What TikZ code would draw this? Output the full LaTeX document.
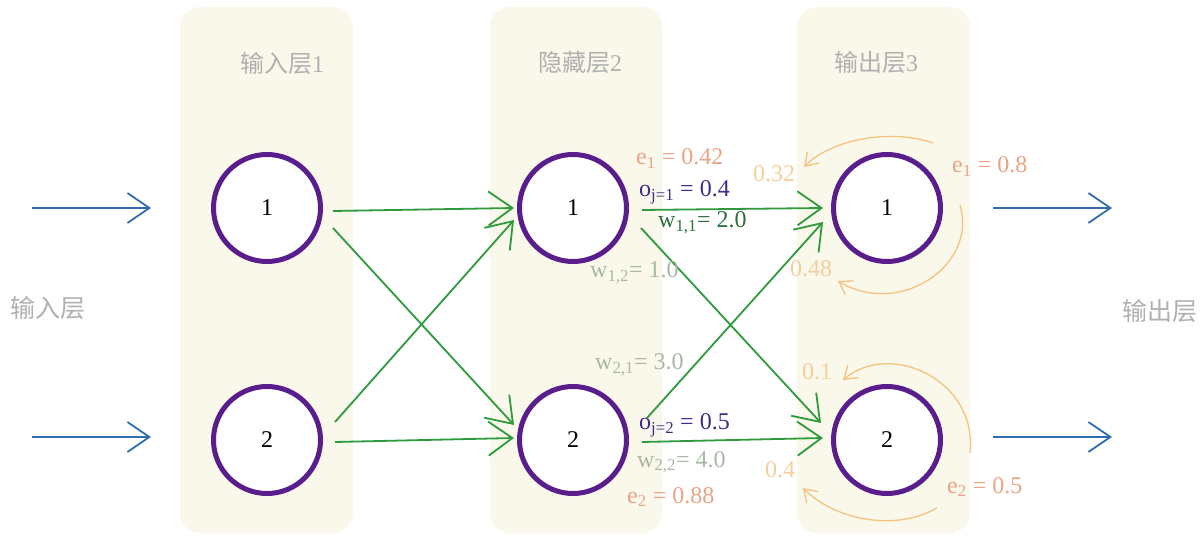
\documentclass[tikz,border=0pt]{standalone}
\usepackage{fontspec}
\setmainfont{Liberation Serif}
\newfontfamily\cjk{Noto Sans CJK SC}
\usetikzlibrary{arrows.meta}
\definecolor{panel}{HTML}{FAF8EB}
\definecolor{ringc}{HTML}{5A1E8C}
\definecolor{bluec}{HTML}{2F6DB0}
\definecolor{greenc}{HTML}{2E9A3C}
\definecolor{orangec}{HTML}{F4C37E}
\definecolor{salmon}{HTML}{E8A585}
\definecolor{navy}{HTML}{3A2E88}
\definecolor{dgreen}{HTML}{2E6E3C}
\definecolor{lgreen}{HTML}{A8B8A4}
\definecolor{lorange}{HTML}{F5CE9C}
\definecolor{hdr}{HTML}{B0B0B0}
\begin{document}
\begin{tikzpicture}[x=1pt,y=-1pt,
  neuron/.style={circle,draw=ringc,line width=5pt,fill=white,minimum size=107pt,inner sep=0pt,font=\fontsize{24}{28}\selectfont},
  panelbox/.style={fill=panel,rounded corners=20pt},
  header/.style={text=hdr,font=\fontsize{24}{28}\selectfont,inner sep=0pt},
  bluearrow/.style={draw=bluec,line width=1.8pt,-{Straight Barb[length=22pt,width=30pt,line width=1.8pt]}},
  greenarrow/.style={draw=greenc,line width=1.8pt,-{Straight Barb[length=24pt,width=34pt,line width=1.8pt]}},
  backarrow/.style={draw=orangec,line width=1.3pt,-{Straight Barb[length=12pt,width=16pt,line width=1.3pt]}},
  lbl/.style={font=\fontsize{24}{27}\selectfont,inner sep=0pt,anchor=base west},
]
\useasboundingbox (0,0) rectangle (1203,537);
% panels
\fill[panelbox] (180,7) rectangle (353,533);
\fill[panelbox] (490,7) rectangle (662,533);
\fill[panelbox] (797,7) rectangle (970,533);
% headers
\node[header] (t1) at (282,63) {{\cjk 输入层}1};
\node[header] (t2) at (580,62) {{\cjk 隐藏层}2};
\node[header] (t3) at (876,62) {{\cjk 输出层}3};
\node[header,font=\fontsize{25}{28}\selectfont] (tin) at (48,308) {\cjk 输入层};
\node[header,font=\fontsize{25}{28}\selectfont] (tout) at (1160,311) {\cjk 输出层};
% neurons
\node[neuron] (i1) at (267,208) {1};
\node[neuron] (i2) at (267,440) {2};
\node[neuron] (h1) at (573,208) {1};
\node[neuron] (h2) at (573,440) {2};
\node[neuron] (o1) at (887,208) {1};
\node[neuron] (o2) at (887,440) {2};
% blue in/out arrows
\coordinate (inA) at (32,208);
\coordinate (inB) at (32,437);
\coordinate (outA) at (1112,208);
\coordinate (outB) at (1112,437);
\draw[bluearrow] (inA) -- ([xshift=-60]i1.west);
\draw[bluearrow] (inB) -- ([shift={(-60,-3)}]i2.west);
\draw[bluearrow] ([xshift=50]o1.east) -- (outA);
\draw[bluearrow] ([shift={(50,-3)}]o2.east) -- (outB);
% green connections input -> hidden
\draw[greenarrow] ([shift={(10,3)}]i1.east) -- ([shift={(-3,0)}]h1.west);
\draw[greenarrow] ([shift={(10,20)}]i1.east) -- ([shift={(-3,-15)}]h2.west);
\draw[greenarrow] ([shift={(12,-18)}]i2.east) -- ([shift={(-3,12)}]h1.west);
\draw[greenarrow] ([shift={(12,2)}]i2.east) -- ([shift={(-3,-2)}]h2.west);
% green connections hidden -> output
\draw[greenarrow] ([shift={(13,2)}]h1.east) -- ([shift={(-8,0)}]o1.west);
\draw[greenarrow] ([shift={(12,20)}]h1.east) -- ([shift={(-10,-17)}]o2.west);
\draw[greenarrow] ([shift={(18,-22)}]h2.east) -- ([shift={(-8,14)}]o1.west);
\draw[greenarrow] ([shift={(13,2)}]h2.east) -- ([shift={(-8,-2)}]o2.west);
% hidden labels
\node[lbl,text=salmon] (e1h) at (636,165) {e\textsubscript{1} = 0.42};
\node[lbl,text=navy] (oj1) at (639,197) {o\textsubscript{j=1} = 0.4};
\node[lbl,text=dgreen] (w11) at (658,228) {w\textsubscript{1,1}= 2.0};
\node[lbl,text=lgreen] (w12) at (590,278) {w\textsubscript{1,2}= 1.0};
\node[lbl,text=lgreen] (w21) at (595,370) {w\textsubscript{2,1}= 3.0};
\node[lbl,text=navy] (oj2) at (639,430) {o\textsubscript{j=2} = 0.5};
\node[lbl,text=lgreen] (w22) at (637,467) {w\textsubscript{2,2}= 4.0};
\node[lbl,text=salmon] (e2h) at (627,503) {e\textsubscript{2} = 0.88};
% output labels
\node[lbl,text=lorange] (l032) at (753,182) {0.32};
\node[lbl,text=lorange] (l048) at (790,277) {0.48};
\node[lbl,text=lorange] (l01) at (802,380) {0.1};
\node[lbl,text=lorange] (l04) at (765,477) {0.4};
\node[lbl,text=salmon] (e1o) at (952,173) {e\textsubscript{1} = 0.8};
\node[lbl,text=salmon] (e2o) at (947,493) {e\textsubscript{2} = 0.5};
% back-propagation curves
\coordinate (b1s) at (933,143);
\coordinate (b1e) at (804,167);
\coordinate (b2s) at (960,205);
\coordinate (b2e) at (838,281);
\coordinate (b3s) at (970,453);
\coordinate (b3e) at (843,380);
\coordinate (b4s) at (937,508);
\coordinate (b4e) at (803,488);
\draw[backarrow] (b1s) .. controls (890,128) and (830,140) .. (b1e);
\draw[backarrow] (b2s) .. controls (978,265) and (900,318) .. (b2e);
\draw[backarrow] (b3s) .. controls (978,380) and (890,340) .. (b3e);
\draw[backarrow] (b4s) .. controls (895,532) and (835,520) .. (b4e);
\end{tikzpicture}
\end{document}
